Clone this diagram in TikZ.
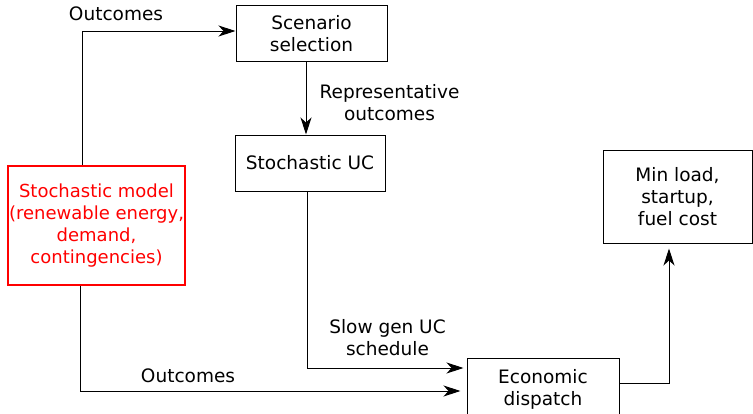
\documentclass[tikz,border=0pt]{standalone}
\usepackage{fontspec}
\setmainfont{DejaVu Sans}
\usetikzlibrary{arrows.meta}
\definecolor{boxred}{RGB}{255,0,0}
\begin{document}
\begin{tikzpicture}[x=1pt,y=-1pt,
  box/.style={draw=black, line width=1pt, align=center, inner sep=0pt,
    font=\fontsize{18.5}{22}\selectfont},
  redbox/.style={box, draw=boxred, text=boxred, line width=1.6pt, font=\fontsize{18}{22}\selectfont},
  lbl/.style={align=center, inner sep=0pt, font=\fontsize{18.5}{22}\selectfont},
  conn/.style={line width=1pt, -{Stealth[length=17pt,width=11pt,inset=5pt]}}]
\useasboundingbox (0,0) rectangle (753,413);
\node[box, minimum width=151pt, minimum height=56pt] (scen) at (311.5,33.5) {Scenario\\selection};
\node[box, minimum width=150pt, minimum height=56pt] (suc) at (310,163) {Stochastic UC};
\node[redbox, minimum width=177pt, minimum height=119pt] (red) at (96.5,225.5) {Stochastic model\\(renewable energy,\\demand,\\contingencies)};
\node[box, minimum width=152pt, minimum height=62pt] (ed) at (543,389) {Economic\\dispatch};
\node[box, minimum width=149pt, minimum height=93pt] (minl) at (677.5,196.5) {Min load,\\startup,\\fuel cost};
\node[lbl] (l1) at (116,14) {Outcomes};
\node[lbl] (l2) at (389.5,103) {Representative\\outcomes};
\node[lbl] (l3) at (387.5,338) {Slow gen UC\\schedule};
\node[lbl] (l4) at (188,376) {Outcomes};
\draw[conn] ([xshift=-14.5pt]red.north) |- ([yshift=2.5pt]scen.west);
\draw[conn] ([xshift=-5.5pt]scen.south) -- ([xshift=-4pt]suc.north);
\draw[conn, shorten >=3pt] ([xshift=-3pt]suc.south) |- ([yshift=21pt]ed.west);
\draw[conn, shorten >=6pt] ([xshift=-16.5pt]red.south) |- ([yshift=-2pt]ed.west);
\draw[conn, shorten >=5pt] ([yshift=6pt]ed.east) -| ([xshift=-8.5pt]minl.south);
\end{tikzpicture}
\end{document}
